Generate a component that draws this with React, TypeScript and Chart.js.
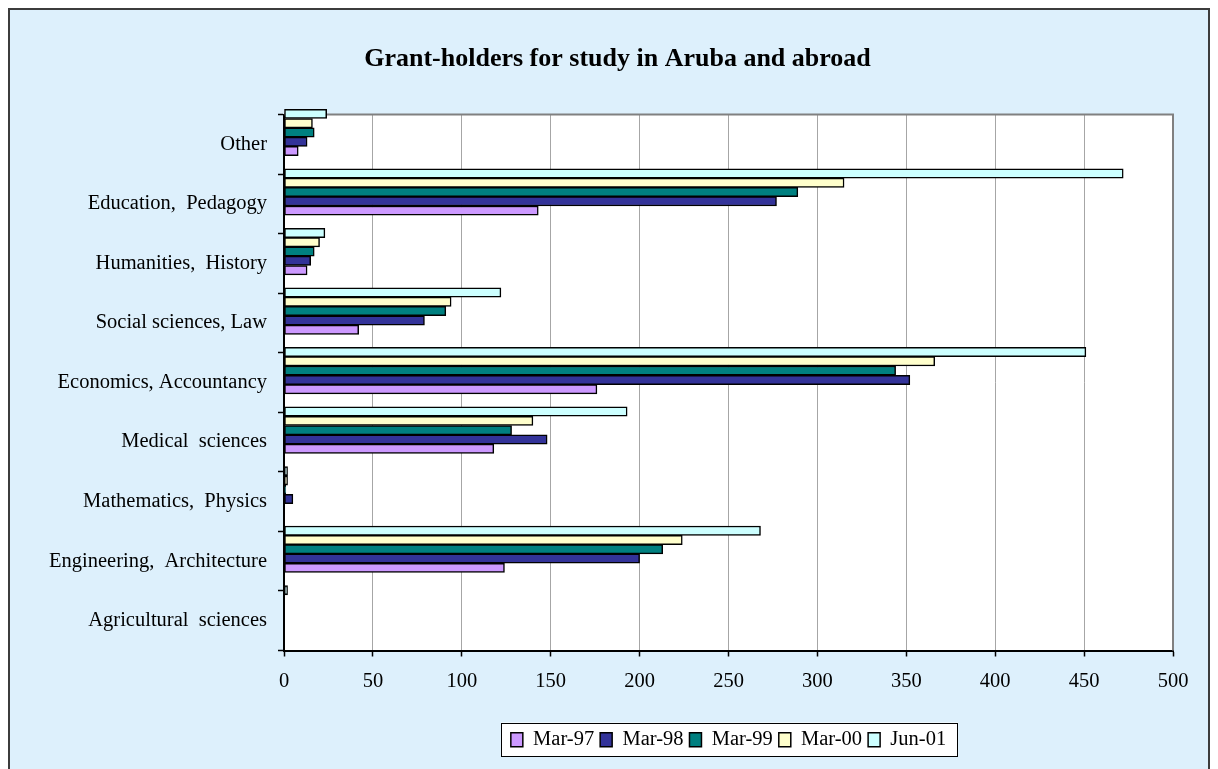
import React, { useEffect, useRef } from "react";
import { Chart, registerables } from "chart.js";

Chart.register(...registerables);

// Categories listed bottom-to-top (as in the original spreadsheet chart)
const categories = [
  "Agricultural  sciences",
  "Engineering,  Architecture",
  "Mathematics,  Physics",
  "Medical  sciences",
  "Economics, Accountancy",
  "Social sciences, Law",
  "Humanities,  History",
  "Education,  Pedagogy",
  "Other",
];

const seriesLabels = ["Mar-97", "Mar-98", "Mar-99", "Mar-00", "Jun-01"];

const mar97 = [0, 124, 0, 118, 176, 42, 13, 143, 8];
const mar98 = [0, 200, 5, 148, 352, 79, 15, 277, 13];
const mar99 = [0, 213, 1, 128, 344, 91, 17, 289, 17];
const mar00 = [0, 224, 2, 140, 366, 94, 20, 315, 16];
const jun01 = [2, 268, 2, 193, 451, 122, 23, 472, 24];

const xTicks = { min: 0, max: 500, step: 50 };

const seriesValues = [mar97, mar98, mar99, mar00, jun01];
const seriesColors = ["#CC99FF", "#333399", "#008080", "#FFFFCC", "#CCFFFF"];

const FONT = "'Liberation Serif', 'Times New Roman', serif";

const framePlugin = {
  id: "excelFrame",
  afterLayout(chart: any) {
    // centre the title over the whole frame rather than the padded box
    const tb = chart.titleBlock;
    if (tb) {
      tb.left += 11;
      tb.right += 11;
    }
  },
  beforeDraw(chart: any) {
    const { ctx, chartArea: a } = chart;
    ctx.save();
    ctx.fillStyle = "#FFFFFF";
    ctx.fillRect(a.left, a.top, a.right - a.left, a.bottom - a.top);
    const lg = chart.legend;
    if (lg && lg.legendHitBoxes && lg.legendHitBoxes.length) {
      const hb = lg.legendHitBoxes;
      let l = Infinity, r = -Infinity, t = Infinity, b = -Infinity;
      for (const h of hb) {
        l = Math.min(l, h.left);
        r = Math.max(r, h.left + h.width);
        t = Math.min(t, h.top);
        b = Math.max(b, h.top + h.height);
      }
      l -= 10; r += 12; t -= 7; b += 6;
      ctx.fillStyle = "#FFFFFF";
      ctx.fillRect(l, t, r - l, b - t);
      ctx.strokeStyle = "#000000";
      ctx.lineWidth = 1;
      ctx.strokeRect(Math.round(l) + 0.5, Math.round(t) + 0.5, Math.round(r - l) - 1, Math.round(b - t) - 1);
    }
    ctx.restore();
  },
  beforeDatasetsDraw(chart: any) {
    const { ctx, chartArea: a } = chart;
    ctx.save();
    ctx.strokeStyle = "#808080";
    ctx.lineWidth = 2;
    ctx.beginPath();
    ctx.moveTo(a.left, a.top);
    ctx.lineTo(a.right, a.top);
    ctx.lineTo(a.right, a.bottom);
    ctx.stroke();
    ctx.restore();
  },
};

export default function App() {
  const ref = useRef<HTMLCanvasElement>(null);

  useEffect(() => {
    if (!ref.current) return;
    // Chart.js stacks grouped bars top-down, so feed the latest series first
    const order = [4, 3, 2, 1, 0];
    const datasets = order.map((k) => ({
      label: seriesLabels[k],
      data: seriesValues[k].map((v, i) => ({ x: v, y: i })),
      backgroundColor: seriesColors[k],
      borderColor: "#000000",
      borderWidth: 1.5,
      borderSkipped: false as const,
      barThickness: 9.3,
      xAxisID: "x",
      yAxisID: "yb",
      clip: false as any,
    }));

    const chart = new Chart(ref.current, {
      type: "bar",
      data: { labels: categories, datasets },
      options: {
        indexAxis: "y",
        animation: false,
        responsive: false,
        events: [],
        layout: { padding: { left: 30, right: 35, top: 0, bottom: 26 } },
        scales: {
          x: {
            type: "linear",
            min: xTicks.min,
            max: xTicks.max,
            ticks: {
              stepSize: xTicks.step,
              color: "#000",
              padding: 13,
              font: { family: FONT, size: 20.5 },
            },
            grid: {
              color: "#A6A6A6",
              lineWidth: 1,
              tickLength: 6,
              tickColor: "#000",
              tickWidth: 1.5,
            },
            border: { color: "#000", width: 2 },
            afterFit: (s: any) => {
              s.height = 73;
            },
          },
          y: {
            type: "category",
            labels: categories,
            reverse: true,
            offset: true,
            ticks: {
              color: "#000",
              padding: 11,
              autoSkip: false,
              font: { family: FONT, size: 20.5 },
            },
            grid: {
              offset: true,
              drawOnChartArea: false,
              tickLength: 6,
              tickColor: "#000",
              tickWidth: 1.5,
            },
            border: { color: "#000", width: 2 },
            afterFit: (s: any) => {
              s.width = 244;
            },
          },
          yb: {
            type: "linear",
            axis: "y",
            display: false,
            offset: false,
            grid: { offset: false },
            min: -0.7,
            max: categories.length - 1 + 0.3,
          },
        } as any,
        plugins: {
          title: {
            display: true,
            text: "Grant-holders for study in Aruba and abroad",
            color: "#000",
            font: { family: FONT, size: 26, weight: "bold" },
            padding: { top: 34, bottom: 39.4 },
          },
          legend: {
            display: true,
            position: "bottom",
            fullSize: false,
            labels: {
              color: "#000",
              font: { family: FONT, size: 20.5 },
              boxWidth: 12,
              boxHeight: 14,
              padding: 6,
              sort: (a: any, b: any) => b.datasetIndex - a.datasetIndex,
            },
          },
          tooltip: { enabled: false },
        },
      },
      plugins: [framePlugin],
    });
    return () => chart.destroy();
  }, []);

  return (
    <div
      style={{
        position: "fixed",
        left: 8,
        top: 8,
        width: 1202,
        height: 780,
        boxSizing: "border-box",
        border: "2px solid #3C3C3C",
        background: "#DDF0FC",
      }}
    >
      <canvas ref={ref} width={1198} height={776} style={{ display: "block" }} />
    </div>
  );
}
